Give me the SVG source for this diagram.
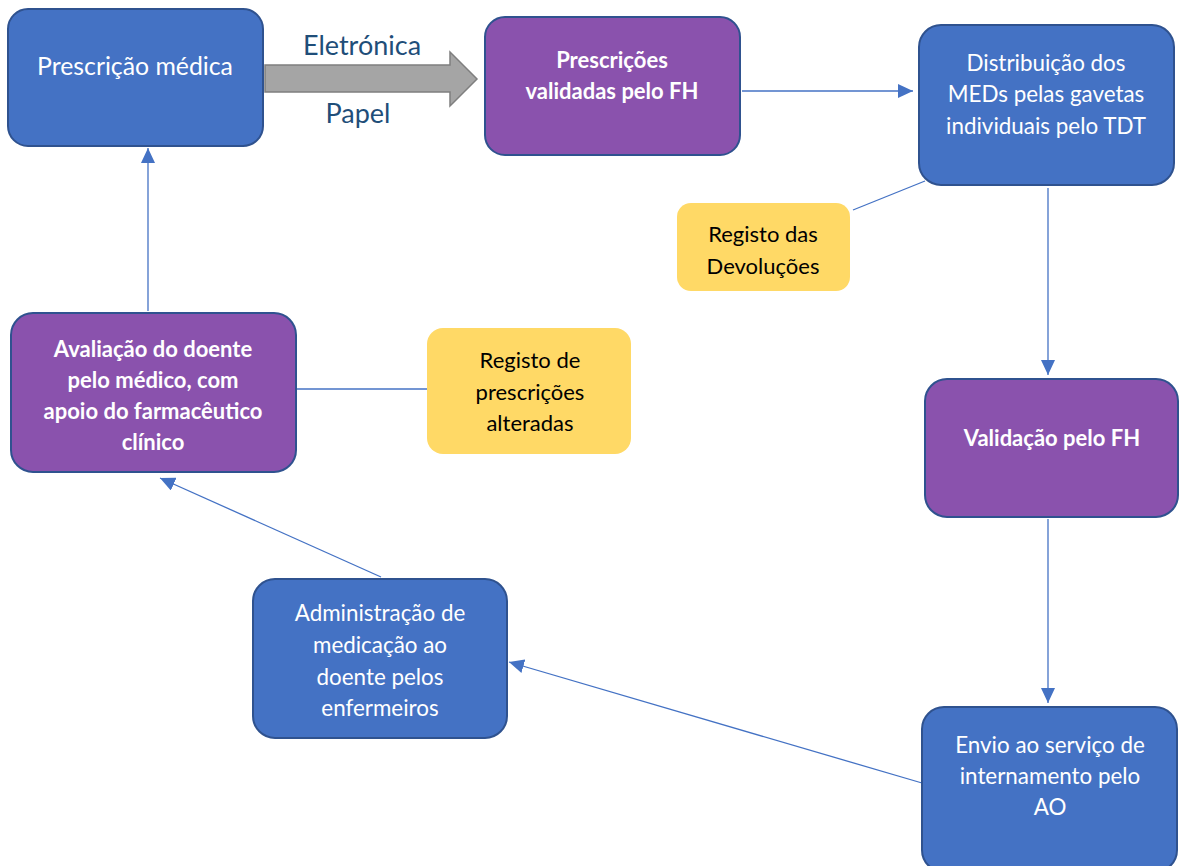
<svg xmlns="http://www.w3.org/2000/svg" width="1179" height="866" viewBox="0 0 1179 866">
  <style>
    .blue { fill: #4472C4; stroke: #2F528F; stroke-width: 2; }
    .purple { fill: #8A52AD; stroke: #2F528F; stroke-width: 2; }
    .yellow { fill: #FFD966; stroke: none; }
    .t { font-family: Lato, "Open Sans", "Liberation Sans", sans-serif; text-anchor: middle; }
    .tw { fill: #FFFFFF; font-size: 22.4px; }
    .tb { fill: #FFFFFF; font-size: 22px; font-weight: bold; }
    .tk { fill: #000000; font-size: 22px; }
    .tl { fill: #1F4E79; font-size: 27px; }
    .conn { stroke: #4472C4; stroke-width: 1.3; fill: none; }
  </style>
  <defs>
    <marker id="head" markerUnits="userSpaceOnUse" markerWidth="16" markerHeight="14" refX="15" refY="7" orient="auto">
      <path d="M0,0 L15,7 L0,14 Z" fill="#4472C4"/>
    </marker>
  </defs>
  <rect width="1179" height="866" fill="#FFFFFF"/>

  <!-- connectors -->
  <g id="connectors">
    <path d="M265,65 L450,65 L450,52 L477,79 L450,106 L450,92 L265,92 Z" fill="#A5A5A5" stroke="#7F7F7F" stroke-width="1.5"/>
    <text class="t tl" x="362" y="55">Eletrónica</text>
    <text class="t tl" x="358" y="123">Papel</text>
    <line class="conn" x1="742" y1="91" x2="913" y2="91" marker-end="url(#head)"/>
    <line class="conn" x1="925" y1="181" x2="853" y2="210"/>
    <line class="conn" x1="1048" y1="188" x2="1048" y2="375" marker-end="url(#head)"/>
    <line class="conn" x1="1048" y1="519" x2="1048" y2="703" marker-end="url(#head)"/>
    <line class="conn" x1="922" y1="783" x2="509" y2="662" marker-end="url(#head)"/>
    <line class="conn" x1="381" y1="577" x2="160" y2="478" marker-end="url(#head)"/>
    <line class="conn" x1="297" y1="389" x2="428" y2="389"/>
    <line class="conn" x1="148" y1="311" x2="148" y2="148" marker-end="url(#head)"/>
  </g>

  <g id="prescricao-medica">
    <rect class="blue" x="8" y="9" width="255" height="137" rx="20"/>
    <text class="t tw" x="135" y="75" style="font-size:24.8px">Prescrição médica</text>
  </g>

  <g id="prescricoes-validadas">
    <rect class="purple" x="485" y="17" width="255" height="138" rx="20"/>
    <text class="t tb" x="612" y="68">Prescrições</text>
    <text class="t tb" x="612" y="99">validadas pelo FH</text>
  </g>

  <g id="distribuicao">
    <rect class="blue" x="919" y="25" width="255" height="160" rx="22"/>
    <text class="t tw" x="1046" y="71">Distribuição dos</text>
    <text class="t tw" x="1046" y="102">MEDs pelas gavetas</text>
    <text class="t tw" x="1046" y="134">individuais pelo TDT</text>
  </g>

  <g id="registo-devolucoes">
    <rect class="yellow" x="677" y="203" width="173" height="88" rx="14"/>
    <text class="t tk" x="763" y="242">Registo das</text>
    <text class="t tk" x="763" y="274">Devoluções</text>
  </g>

  <g id="validacao-fh">
    <rect class="purple" x="925" y="379" width="253" height="138" rx="22"/>
    <text class="t tb" x="1052" y="446">Validação pelo FH</text>
  </g>

  <g id="envio">
    <rect class="blue" x="922" y="707" width="255" height="165" rx="22"/>
    <text class="t tw" x="1050" y="753">Envio ao serviço de</text>
    <text class="t tw" x="1050" y="784">internamento pelo</text>
    <text class="t tw" x="1050" y="815">AO</text>
  </g>

  <g id="administracao">
    <rect class="blue" x="253" y="579" width="254" height="159" rx="22"/>
    <text class="t tw" x="380" y="621">Administração de</text>
    <text class="t tw" x="380" y="653">medicação ao</text>
    <text class="t tw" x="380" y="685">doente pelos</text>
    <text class="t tw" x="380" y="716">enfermeiros</text>
  </g>

  <g id="avaliacao">
    <rect class="purple" x="11" y="313" width="285" height="159" rx="22"/>
    <text class="t tb" x="153" y="357">Avaliação do doente</text>
    <text class="t tb" x="153" y="388">pelo médico, com</text>
    <text class="t tb" x="153" y="419">apoio do farmacêutico</text>
    <text class="t tb" x="153" y="450">clínico</text>
  </g>

  <g id="registo-prescricoes">
    <rect class="yellow" x="427" y="328" width="204" height="126" rx="16"/>
    <text class="t tk" x="530" y="368">Registo de</text>
    <text class="t tk" x="530" y="400">prescrições</text>
    <text class="t tk" x="530" y="431">alteradas</text>
  </g>
</svg>
